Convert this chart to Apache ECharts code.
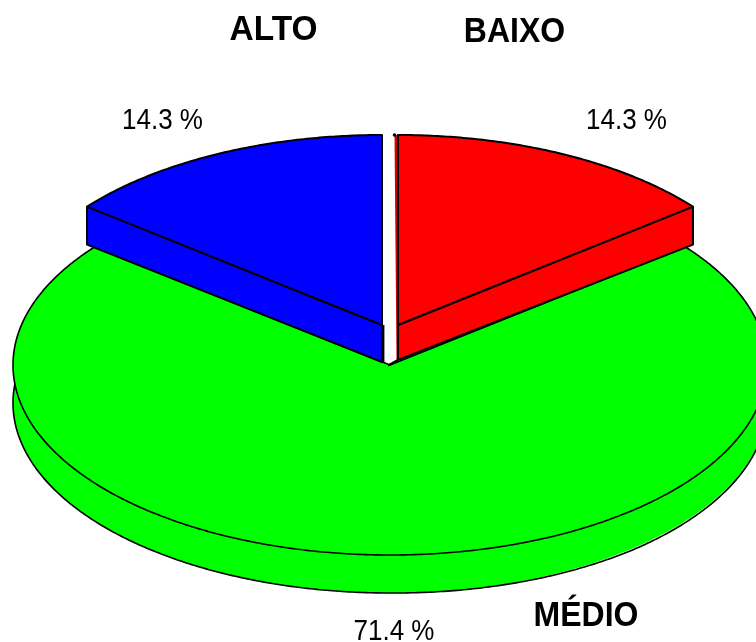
<!DOCTYPE html>
<html>
<head>
<meta charset="utf-8">
<script src="https://cdn.jsdelivr.net/npm/echarts@6/dist/echarts.min.js"></script>
<style>
  html, body { margin: 0; padding: 0; background: #fff; }
  #chart { width: 756px; height: 642px; }
</style>
</head>
<body>
<div id="chart"></div>
<script>
// Shares of each class, clockwise from twelve o'clock.
const categories = ['BAIXO', 'MÉDIO', 'ALTO'];
const shares = [14.3, 71.4, 14.3];
const colors = ['#ff0000', '#00ff00', '#0000ff'];

// Tilted-disc geometry, in axis units (axes run 1:1 with the canvas).
const disc = { cx: 390, cy: 365, rx: 377, ry: 190, depth: 38 };
const explode = { 'BAIXO': [8, -40], 'MÉDIO': [0, 0], 'ALTO': [-8, -40] };
const apexDepth = { 'BAIXO': 35, 'ALTO': 37 };
const namePos = { 'BAIXO': [514.5, 32.5], 'MÉDIO': [586, 616], 'ALTO': [273.5, 30.5] };
const nameWiden = { 'BAIXO': 1, 'MÉDIO': 1, 'ALTO': 1.045 };
const sharePos = { 'BAIXO': [626.5, 121], 'MÉDIO': [394, 632], 'ALTO': [162.5, 121] };

const total = shares.reduce((a, b) => a + b, 0);
const starts = [];
shares.reduce((acc, v, i) => { starts[i] = acc; return acc + v; }, 0);

const FONT = '"Liberation Sans", Arial, sans-serif';

function arcPoints(api, cx, cy, from, to, extra) {
  const pts = [];
  const steps = Math.max(2, Math.ceil(Math.abs(to - from) / 0.5));
  for (let i = 0; i <= steps; i++) {
    const deg = from + (to - from) * i / steps;
    const t = deg * Math.PI / 180;
    const dy = extra ? extra(deg) : 0;
    pts.push(api.coord([cx + disc.rx * Math.sin(t), cy - disc.ry * Math.cos(t) + dy]));
  }
  return pts;
}

function bigSlice(api, color, from, to, cx, cy, apex) {
  const lowY = cy + disc.depth;
  // The underside of the disc, its outline drifting off the fill on the right.
  const drift = deg => 1.5 * Math.min(1, Math.max(0, (180 - deg) / 40));
  return [
    {
      type: 'polygon', z2: 0,
      shape: { points: [api.coord([cx, lowY])].concat(arcPoints(api, cx, lowY, from, to)) },
      style: { fill: color }
    },
    {
      type: 'polyline', z2: 0,
      shape: { points: arcPoints(api, cx, lowY, from, to, drift) },
      style: { fill: null, stroke: '#000', lineWidth: 1.6 }
    },
    {
      type: 'polygon', z2: 1,
      shape: { points: [apex].concat(arcPoints(api, cx, cy, from, to)) },
      style: { fill: color, stroke: '#000', lineWidth: 1.6, lineJoin: 'round' }
    }
  ];
}

function smallSlice(api, name, color, from, to, cx, cy, apex) {
  const style = { fill: color, stroke: '#000', lineWidth: 2, lineJoin: 'round' };
  const isLeft = name === 'ALTO';
  const t = (isLeft ? from : to) * Math.PI / 180;
  const outer = [cx + disc.rx * Math.sin(t), cy - disc.ry * Math.cos(t)];
  const low = [cx, cy + apexDepth[name]];
  const parts = [{
    type: 'polygon', z2: 2,
    shape: { points: [apex, api.coord(outer), api.coord([outer[0], outer[1] + disc.depth]), api.coord(low)] },
    style
  }];
  if (isLeft) {
    // Heavier line down the inner corner of the cut face.
    parts.push({
      type: 'line', z2: 4,
      shape: { x1: apex[0] + 1.2, y1: apex[1], x2: api.coord(low)[0] + 1.2, y2: api.coord(low)[1] },
      style: { stroke: '#000', lineWidth: 2.4 }
    });
  } else {
    // Sliver of the other cut face, and the lower edge running on to the disc centre.
    const topY = cy - disc.ry;
    parts.push({
      type: 'polygon', z2: 1,
      shape: { points: [[cx - 1, topY], [cx - 3.5, topY], [cx - 1.5, low[1]], [cx, low[1]]].map(p => api.coord(p)) },
      style: { fill: '#d40000', stroke: null }
    });
    parts.push({
      type: 'circle', z2: 4,
      shape: { cx: api.coord([cx - 3.5, topY])[0], cy: api.coord([cx - 3.5, topY])[1], r: 1.8 },
      style: { fill: '#000' }
    });
    parts.push({
      type: 'line', z2: 4,
      shape: { x1: api.coord(low)[0], y1: api.coord(low)[1], x2: api.coord([disc.cx - 2, disc.cy + 0.5])[0], y2: api.coord([disc.cx - 2, disc.cy + 0.5])[1] },
      style: { stroke: '#000', lineWidth: 2 }
    });
  }
  parts.push({ type: 'polygon', z2: 3, shape: { points: [apex].concat(arcPoints(api, cx, cy, from, to)) }, style });
  return parts;
}

function renderSlice(params, api) {
  const i = params.dataIndex;
  const name = categories[i];
  const from = starts[i] / total * 360;
  const to = from + api.value(1) / total * 360;
  const cx = disc.cx + explode[name][0];
  const cy = disc.cy + explode[name][1];
  const apex = api.coord([cx, cy]);

  const children = to - from > 180
    ? bigSlice(api, colors[i], from, to, cx, cy, apex)
    : smallSlice(api, name, colors[i], from, to, cx, cy, apex);

  const label = (pos, text, font, widen, stretch) => ({
    type: 'text', z2: 10,
    x: api.coord(pos)[0], y: api.coord(pos)[1], scaleX: widen, scaleY: stretch,
    style: { text, font, fill: '#000', align: 'center', verticalAlign: 'middle' }
  });
  children.push(label(namePos[name], name, 'bold 32px ' + FONT, nameWiden[name], 1.08));
  children.push(label(sharePos[name], api.value(1).toFixed(1) + ' %', '26px ' + FONT, 1, 1.13));

  return { type: 'group', children };
}

const chart = echarts.init(document.getElementById('chart'), null, { renderer: 'canvas' });
chart.setOption({
  animation: false,
  backgroundColor: '#fff',
  grid: { left: 0, right: 0, top: 0, bottom: 0 },
  xAxis: { type: 'value', min: 0, max: 756, show: false },
  yAxis: { type: 'value', min: 0, max: 642, inverse: true, show: false },
  series: [{
    type: 'custom',
    coordinateSystem: 'cartesian2d',
    clip: false,
    renderItem: renderSlice,
    data: shares.map((v, i) => [i, v])
  }]
});
</script>
</body>
</html>
